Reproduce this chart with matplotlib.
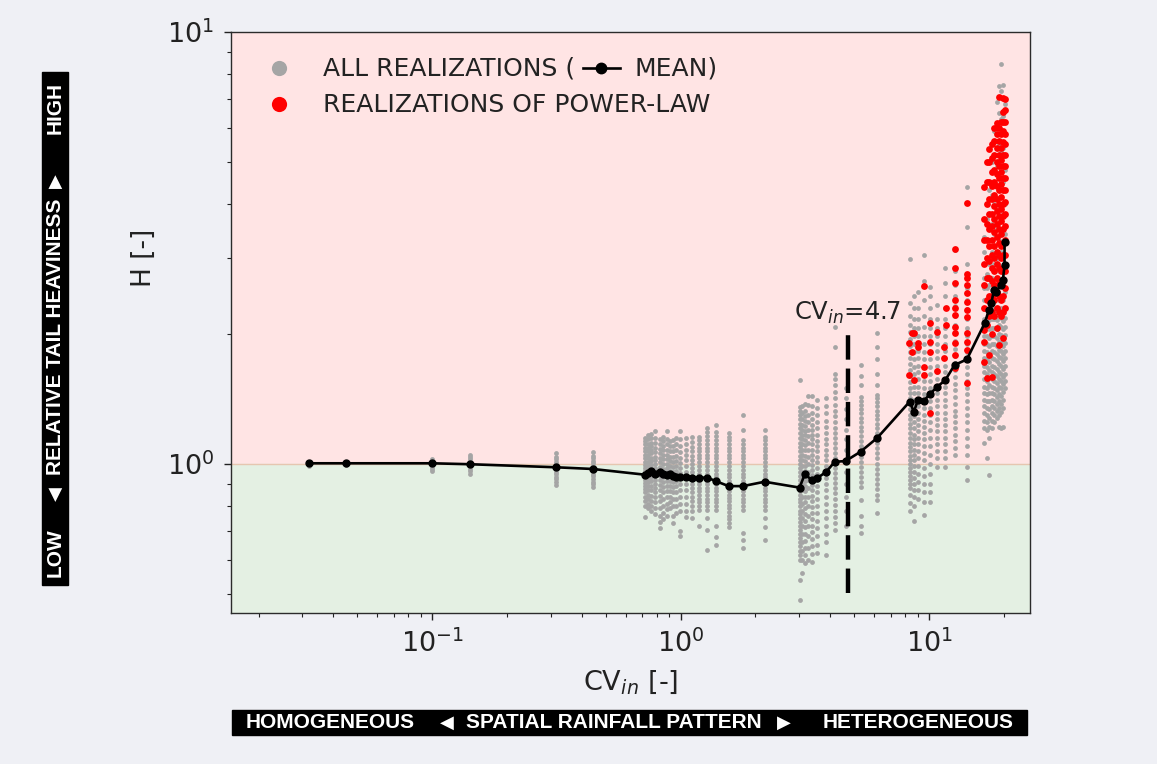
import matplotlib
matplotlib.use("Agg")
import matplotlib.pyplot as plt
from matplotlib.lines import Line2D
from matplotlib.patches import Rectangle
from matplotlib.ticker import NullFormatter

# Ensemble mean of the tail heaviness H for each spatial CV of the rainfall input
mean_cv = [0.032, 0.045, 0.100, 0.142, 0.314, 0.443,
           0.716, 0.740, 0.762, 0.790, 0.823, 0.850, 0.881, 0.905, 0.931, 0.960, 0.991, 1.047,
           1.115, 1.185, 1.280, 1.392, 1.560, 1.781, 2.178,
           3.01, 3.16, 3.38, 3.54, 3.86, 4.17, 4.61, 5.30, 6.19,
           8.35, 8.69, 9.01, 9.53, 10.05, 10.79, 11.62, 12.66, 14.2,
           16.73, 17.41, 17.80, 18.24, 18.64, 19.40, 19.82, 20.13, 20.13]
mean_h = [1.004, 1.004, 1.004, 0.999, 0.983, 0.974,
          0.945, 0.955, 0.962, 0.950, 0.958, 0.950, 0.944, 0.948, 0.938, 0.935, 0.932, 0.935,
          0.930, 0.930, 0.930, 0.912, 0.889, 0.889, 0.910,
          0.882, 0.947, 0.918, 0.927, 0.960, 1.012, 1.016, 1.068, 1.150,
          1.394, 1.321, 1.406, 1.400, 1.450, 1.510, 1.564, 1.695, 1.747,
          2.117, 2.273, 2.354, 2.528, 2.505, 2.596, 2.665, 2.888, 3.270]

# All realizations, one column of H values per CV
gray_cv = [0.032, 0.045, 0.100, 0.142, 0.314, 0.443,
           0.716, 0.740, 0.762, 0.790, 0.823, 0.850, 0.881, 0.905, 0.931, 0.960, 0.991, 1.047,
           1.115, 1.185, 1.280, 1.392, 1.560, 1.781, 2.178,
           3.01, 3.09, 3.16, 3.27, 3.38, 3.54, 3.86, 4.17, 4.61, 5.30, 6.19,
           8.35, 8.69, 9.01, 9.53, 10.05, 10.79, 11.62, 12.66, 14.2,
           16.7, 17.1, 17.5, 17.9, 18.3, 18.7, 19.1, 19.5, 19.9, 20.3]
gray_h = [
    [0.99, 0.995, 1.0, 1.005, 1.01],
    [0.995, 1.0, 1.005],
    [0.965, 0.975, 0.985, 0.995, 1.005, 1.015, 1.025],
    [0.95, 0.962, 0.975, 0.987, 1.0, 1.012, 1.025, 1.037, 1.05],
    [0.895, 0.908, 0.921, 0.934, 0.947, 0.96, 0.973, 0.986, 1.0, 1.013, 1.027, 1.04, 1.06],
    [0.885, 0.898, 0.911, 0.924, 0.937, 0.95, 0.963, 0.976, 0.99, 1.003, 1.017, 1.031, 1.045, 1.066],
    [0.755, 0.80, 0.82, 0.84, 0.86, 0.875, 0.89, 0.905, 0.92, 0.935, 0.95, 0.965, 0.98, 0.995,
     1.01, 1.03, 1.05, 1.07, 1.09, 1.11, 1.13, 1.15],
    [0.79, 0.81, 0.83, 0.85, 0.87, 0.89, 0.91, 0.93, 0.95, 0.97, 0.99, 1.01, 1.03, 1.05, 1.07,
     1.09, 1.11, 1.14, 1.17],
    [0.78, 0.80, 0.82, 0.845, 0.87, 0.89, 0.915, 0.935, 0.955, 0.975, 0.995, 1.015, 1.035, 1.06,
     1.08, 1.10, 1.12, 1.15, 1.175],
    [0.765, 0.79, 0.815, 0.84, 0.86, 0.88, 0.90, 0.92, 0.94, 0.96, 0.98, 1.0, 1.02, 1.04, 1.065,
     1.09, 1.12, 1.15, 1.19],
    [0.71, 0.735, 0.76, 0.79, 0.82, 0.845, 0.87, 0.895, 0.92, 0.94, 0.96, 0.985, 1.01, 1.035,
     1.06, 1.085, 1.11, 1.14],
    [0.745, 0.77, 0.80, 0.83, 0.86, 0.885, 0.91, 0.935, 0.955, 0.975, 1.0, 1.025, 1.05, 1.075,
     1.10, 1.13, 1.155],
    [0.76, 0.785, 0.81, 0.84, 0.865, 0.89, 0.915, 0.94, 0.96, 0.98, 1.0, 1.025, 1.05, 1.08,
     1.11, 1.14, 1.19],
    [0.79, 0.815, 0.84, 0.865, 0.89, 0.915, 0.94, 0.965, 0.99, 1.015, 1.04, 1.07, 1.10, 1.13],
    [0.73, 0.76, 0.80, 0.83, 0.86, 0.885, 0.91, 0.935, 0.96, 0.985, 1.01, 1.04, 1.07, 1.10, 1.135],
    [0.77, 0.80, 0.83, 0.86, 0.89, 0.915, 0.94, 0.965, 0.99, 1.015, 1.045, 1.075, 1.11, 1.15],
    [0.68, 0.70, 0.78, 0.81, 0.84, 0.87, 0.90, 0.93, 0.955, 0.98, 1.005, 1.035, 1.065, 1.10,
     1.14, 1.19],
    [0.755, 0.78, 0.81, 0.84, 0.87, 0.90, 0.93, 0.96, 0.99, 1.02, 1.05, 1.08, 1.11, 1.15],
    [0.75, 0.78, 0.80, 0.82, 0.84, 0.86, 0.88, 0.90, 0.92, 0.94, 0.96, 0.98, 1.0, 1.02, 1.045,
     1.07, 1.095, 1.125, 1.155],
    [0.72, 0.783, 0.80, 0.815, 0.83, 0.85, 0.865, 0.88, 0.90, 0.915, 0.935, 0.95, 0.97, 0.99,
     1.01, 1.03, 1.05, 1.07, 1.09, 1.11, 1.135, 1.155],
    [0.633, 0.704, 0.749, 0.783, 0.80, 0.815, 0.83, 0.85, 0.865, 0.88, 0.90, 0.915, 0.935, 0.95,
     0.97, 0.99, 1.01, 1.03, 1.05, 1.07, 1.09, 1.11, 1.135, 1.16, 1.185, 1.21],
    [0.649, 0.679, 0.72, 0.783, 0.80, 0.815, 0.83, 0.85, 0.865, 0.88, 0.90, 0.915, 0.935, 0.95,
     0.97, 0.99, 1.01, 1.03, 1.05, 1.07, 1.09, 1.11, 1.135, 1.16, 1.185, 1.231],
    [0.716, 0.73, 0.745, 0.76, 0.775, 0.79, 0.805, 0.82, 0.835, 0.85, 0.865, 0.88, 0.90, 0.915,
     0.935, 0.95, 0.97, 0.99, 1.01, 1.03, 1.05, 1.07, 1.09, 1.11, 1.135, 1.155, 1.178],
    [0.638, 0.667, 0.691, 0.783, 0.80, 0.815, 0.83, 0.85, 0.865, 0.88, 0.90, 0.915, 0.935, 0.95,
     0.97, 0.99, 1.01, 1.03, 1.05, 1.07, 1.09, 1.11, 1.137, 1.198, 1.298],
    [0.667, 0.716, 0.749, 0.783, 0.80, 0.815, 0.83, 0.85, 0.865, 0.88, 0.90, 0.915, 0.935, 0.95,
     0.97, 0.99, 1.01, 1.03, 1.05, 1.07, 1.09, 1.11, 1.135, 1.157, 1.198],
    [0.485, 0.54, 0.60, 0.615, 0.63, 0.645, 0.66, 0.675, 0.69, 0.705, 0.72, 0.735, 0.75, 0.765,
     0.78, 0.80, 0.815, 0.83, 0.85, 0.865, 0.88, 0.90, 0.92, 0.94, 0.96, 0.98, 1.0, 1.02, 1.045,
     1.07, 1.095, 1.12, 1.15, 1.18, 1.21, 1.24, 1.27, 1.30, 1.33, 1.357, 1.564],
    [0.56, 0.60, 0.63, 0.66, 0.69, 0.72, 0.75, 0.78, 0.81, 0.84, 0.87, 0.90, 0.93, 0.96, 0.99,
     1.02, 1.05, 1.08, 1.11, 1.14, 1.17, 1.20, 1.23, 1.27, 1.31, 1.36],
    [0.59, 0.615, 0.64, 0.665, 0.69, 0.715, 0.74, 0.765, 0.79, 0.815, 0.84, 0.865, 0.89, 0.915,
     0.94, 0.965, 0.99, 1.015, 1.045, 1.075, 1.105, 1.135, 1.165, 1.195, 1.225, 1.26, 1.295,
     1.33, 1.38],
    [0.60, 0.64, 0.68, 0.72, 0.76, 0.80, 0.84, 0.88, 0.92, 0.96, 1.0, 1.04, 1.08, 1.12, 1.16,
     1.20, 1.25, 1.30, 1.37, 1.44],
    [0.594, 0.62, 0.645, 0.67, 0.695, 0.72, 0.745, 0.77, 0.795, 0.82, 0.845, 0.87, 0.895, 0.92,
     0.945, 0.97, 0.995, 1.02, 1.05, 1.08, 1.11, 1.14, 1.17, 1.20, 1.23, 1.27, 1.31, 1.36, 1.44],
    [0.621, 0.65, 0.68, 0.71, 0.74, 0.77, 0.80, 0.83, 0.86, 0.89, 0.92, 0.95, 0.98, 1.01, 1.04,
     1.07, 1.10, 1.13, 1.17, 1.21, 1.25, 1.30, 1.35, 1.406],
    [0.616, 0.66, 0.69, 0.72, 0.75, 0.78, 0.81, 0.84, 0.87, 0.90, 0.93, 0.96, 0.99, 1.02, 1.05,
     1.08, 1.11, 1.14, 1.18, 1.22, 1.26, 1.31, 1.36, 1.42],
    [0.704, 0.73, 0.755, 0.78, 0.805, 0.83, 0.855, 0.88, 0.905, 0.93, 0.955, 0.98, 1.005, 1.03,
     1.06, 1.09, 1.12, 1.15, 1.18, 1.21, 1.25, 1.29, 1.33, 1.37, 1.42, 1.47, 1.52, 1.57, 1.62,
     1.87, 2.077],
    [0.72, 0.78, 0.84, 0.90, 0.96, 1.02, 1.08, 1.14, 1.20, 1.27, 1.34, 1.42, 1.50],
    [0.691, 0.72, 0.76, 0.825, 0.885, 0.91, 0.935, 0.96, 0.985, 1.01, 1.04, 1.07, 1.10, 1.13,
     1.16, 1.19, 1.22, 1.25, 1.28, 1.31, 1.34, 1.37, 1.40, 1.43, 1.52, 1.60, 1.695],
    [0.769, 0.825, 0.85, 0.875, 0.90, 0.925, 0.95, 0.975, 1.0, 1.03, 1.06, 1.09, 1.12, 1.15,
     1.18, 1.21, 1.24, 1.27, 1.30, 1.33, 1.36, 1.39, 1.42, 1.444, 1.52, 1.62, 1.75, 1.87, 2.006],
    [0.78, 0.811, 0.85, 0.88, 0.90, 0.92, 0.94, 0.96, 0.98, 1.0, 1.02, 1.045, 1.07, 1.095, 1.12,
     1.15, 1.18, 1.21, 1.24, 1.27, 1.30, 1.34, 1.38, 1.42, 1.46, 1.50, 1.55, 1.60, 1.65, 1.70,
     1.76, 1.82, 1.88, 1.95, 2.02, 2.10, 2.20, 2.36, 2.99],
    [0.74, 0.80, 0.84, 0.87, 0.90, 0.93, 0.96, 0.99, 1.02, 1.05, 1.08, 1.11, 1.14, 1.17, 1.21,
     1.25, 1.29, 1.33, 1.37, 1.41, 1.46, 1.51, 1.56, 1.62, 1.68, 1.75, 1.82, 1.90, 1.98, 2.07,
     2.17, 2.30, 2.45],
    [0.83, 0.87, 0.91, 0.95, 0.99, 1.03, 1.07, 1.11, 1.15, 1.19, 1.23, 1.27, 1.31, 1.36, 1.41,
     1.46, 1.51, 1.57, 1.63, 1.69, 1.76, 1.83, 1.90, 1.98, 2.07, 2.17, 2.30, 2.50],
    [0.762, 0.818, 0.86, 0.90, 0.94, 0.98, 1.02, 1.06, 1.10, 1.14, 1.18, 1.22, 1.26, 1.30, 1.35,
     1.40, 1.45, 1.50, 1.56, 1.62, 1.68, 1.75, 1.82, 1.90, 1.98, 2.08, 2.20, 2.40, 2.65, 3.04],
    [0.818, 0.86, 0.90, 0.95, 1.0, 1.05, 1.10, 1.15, 1.20, 1.25, 1.30, 1.35, 1.40, 1.45, 1.50,
     1.56, 1.62, 1.68, 1.75, 1.82, 1.90, 1.98, 2.07, 2.17, 2.30, 2.45, 2.57],
    [0.986, 1.03, 1.07, 1.11, 1.15, 1.19, 1.23, 1.27, 1.31, 1.36, 1.41, 1.46, 1.51, 1.57, 1.63,
     1.69, 1.76, 1.83, 1.90, 1.98, 2.07, 2.17, 2.33],
    [0.986, 1.03, 1.07, 1.11, 1.15, 1.19, 1.23, 1.27, 1.31, 1.36, 1.41, 1.46, 1.51, 1.57, 1.63,
     1.69, 1.76, 1.83, 1.90, 1.98, 2.07, 2.17, 2.30, 2.45, 2.62, 2.84],
    [1.049, 1.09, 1.13, 1.17, 1.21, 1.25, 1.29, 1.33, 1.38, 1.43, 1.48, 1.53, 1.59, 1.65, 1.71,
     1.78, 1.85, 1.93, 2.01, 2.10, 2.20, 2.32, 2.45, 2.60, 2.80, 3.13],
    [0.918, 0.986, 1.05, 1.10, 1.15, 1.20, 1.25, 1.30, 1.35, 1.40, 1.45, 1.50, 1.56, 1.62, 1.68,
     1.75, 1.82, 1.90, 1.98, 2.07, 2.17, 2.28, 2.40, 2.55, 2.70, 2.90, 3.54, 4.38],
    [1.117, 1.21, 1.26, 1.31, 1.36, 1.41, 1.46, 1.51, 1.57, 1.63, 1.69, 1.76, 1.83, 1.90, 1.98,
     2.07, 2.17, 2.28, 2.40, 2.55, 2.70, 2.90, 3.10, 3.35],
    [1.03, 1.20, 1.25, 1.30, 1.35, 1.40, 1.45, 1.50, 1.56, 1.62, 1.68, 1.75, 1.82, 1.90, 1.98,
     2.07, 2.17, 2.28, 2.40, 2.55, 2.75, 3.0, 3.3, 3.7],
    [0.943, 1.15, 1.22, 1.28, 1.34, 1.40, 1.46, 1.52, 1.58, 1.65, 1.72, 1.80, 1.88, 1.96, 2.05,
     2.15, 2.26, 2.40, 2.6, 2.9, 3.3, 3.8, 4.3],
    [1.21, 1.26, 1.31, 1.36, 1.41, 1.46, 1.51, 1.57, 1.63, 1.69, 1.76, 1.83, 1.90, 1.98, 2.07,
     2.17, 2.28, 2.45, 2.7, 3.1, 3.6, 4.2, 5.0],
    [1.25, 1.30, 1.35, 1.40, 1.45, 1.50, 1.56, 1.62, 1.68, 1.75, 1.82, 1.90, 1.98, 2.07, 2.17,
     2.28, 2.5, 2.9, 3.4, 4.0, 4.8, 5.9],
    [1.28, 1.33, 1.38, 1.43, 1.48, 1.54, 1.60, 1.66, 1.73, 1.80, 1.88, 1.96, 2.05, 2.15, 2.26,
     2.6, 3.0, 3.5, 4.1, 4.9, 6.0, 6.9],
    [1.22, 1.30, 1.35, 1.40, 1.45, 1.51, 1.57, 1.63, 1.70, 1.77, 1.84, 1.92, 2.0, 2.1, 2.2, 2.4,
     2.8, 3.3, 3.9, 4.6, 5.5, 6.5, 7.5],
    [1.21, 1.32, 1.38, 1.44, 1.50, 1.56, 1.62, 1.69, 1.76, 1.83, 1.91, 1.99, 2.08, 2.18, 2.3,
     2.6, 3.1, 3.7, 4.4, 5.3, 6.3, 7.3, 8.45],
    [1.22, 1.35, 1.41, 1.47, 1.53, 1.59, 1.66, 1.73, 1.80, 1.88, 1.96, 2.05, 2.14, 2.25, 2.4,
     2.7, 3.2, 3.8, 4.5, 5.4, 6.4, 7.53],
    [1.5, 1.56, 1.62, 1.69, 1.76, 1.83, 1.91, 1.99, 2.08, 2.18, 2.3, 2.5, 2.9, 3.4, 4.0, 4.8,
     5.8, 6.8],
]

# Realizations whose runoff tail follows a power law
red_cv = [8.3, 8.5, 8.7, 9.0, 9.5, 10.05, 10.8, 11.5, 11.7, 12.66, 14.2,
          16.7, 17.1, 17.5, 17.9, 18.3, 18.7, 19.1, 19.5, 19.9, 20.3]
red_h = [
    [1.607, 1.91],
    [2.006, 1.82],
    [2.013, 1.564],
    [1.91, 1.868],
    [1.68, 1.607, 2.58],
    [2.117, 1.919, 1.82, 1.31],
    [2.025, 1.64],
    [1.868, 1.757],
    [2.30, 2.10],
    [3.15, 2.84, 2.62, 2.397, 2.295, 2.213, 2.077, 2.006, 1.91, 1.787, 1.666],
    [4.02, 2.76, 2.69, 2.596, 2.483, 2.375, 2.273, 2.193, 2.006, 1.919, 1.835, 1.537],
    [1.92, 2.04, 1.725, 2.3, 2.6, 2.9, 3.3, 3.7, 4.38],
    [1.58, 2.1, 2.4, 2.7, 3.0, 3.3, 3.6, 4.0, 4.5, 5.0],
    [1.787, 2.2, 2.45, 2.7, 2.95, 3.2, 3.5, 3.8, 4.1, 4.5, 5.0, 5.37],
    [1.59, 2.0, 2.25, 2.45, 2.65, 2.85, 3.05, 3.3, 3.55, 3.8, 4.1, 4.4, 4.75, 5.1, 5.5],
    [2.2, 2.4, 2.6, 2.8, 3.0, 3.2, 3.45, 3.7, 3.95, 4.2, 4.5, 4.8, 5.2, 5.6, 6.0],
    [2.06, 2.3, 2.5, 2.7, 2.9, 3.1, 3.35, 3.6, 3.85, 4.1, 4.4, 4.7, 5.0, 5.4, 5.8, 6.16],
    [1.886, 2.25, 2.45, 2.65, 2.85, 3.05, 3.25, 3.5, 3.75, 4.0, 4.3, 4.6, 4.9, 5.2, 5.6, 6.0, 7.08],
    [2.2, 2.4, 2.6, 2.8, 3.0, 3.2, 3.4, 3.65, 3.9, 4.15, 4.45, 4.75, 5.05, 5.4, 5.8, 6.2],
    [1.953, 2.25, 2.45, 2.65, 2.85, 3.05, 3.25, 3.5, 3.75, 4.0, 4.3, 4.6, 4.9, 5.2, 5.55, 5.9,
     6.2, 6.54, 7.02],
    [2.3, 2.55, 2.8, 3.05, 3.3, 3.55, 3.8, 4.05, 4.3, 4.6, 4.9, 5.2, 5.5, 5.8, 6.2, 6.6, 7.0],
]

# Threshold CV and the H span of its marker line
cv_threshold = 4.7
threshold_h = [0.503, 2.0]

BG = '#eff0f5'
TEXT_C = '#222222'

fig = plt.figure(figsize=(11.57, 7.64), dpi=100, facecolor=BG)
ax = fig.add_axes([0.1997, 0.1976, 0.6906, 0.7605])
ax.set_xscale('log')
ax.set_yscale('log')
ax.set_xlim(0.0155, 25.5)
ax.set_ylim(0.452, 10)

# Shaded regimes: heavier (H > 1) and lighter (H < 1) tails
ax.axhspan(1, 10, color='#ffe4e4', zorder=0)
ax.axhspan(0.452, 1, color='#e4f0e3', zorder=0)
ax.axhline(1, color='#e6c6b0', lw=1.0, zorder=0.5)

gx = [cv for cv, hs in zip(gray_cv, gray_h) for _ in hs]
gy = [h for hs in gray_h for h in hs]
ax.scatter(gx, gy, s=12, color='#a5a5a5', linewidths=0, zorder=2)

rx = [cv for cv, hs in zip(red_cv, red_h) for _ in hs]
ry = [h for hs in red_h for h in hs]
ax.scatter(rx, ry, s=24, color='#ff0000', linewidths=0, zorder=3)

ax.plot(mean_cv, mean_h, color='black', lw=1.9, marker='o', markersize=5, zorder=4)

ax.plot([cv_threshold, cv_threshold], threshold_h, color='black', lw=3.2,
        dashes=(5.5, 2.0), zorder=5)
ax.text(cv_threshold, 2.09, f'CV$_{{in}}$={cv_threshold}', ha='center', va='bottom',
        fontsize=17.5, color=TEXT_C, zorder=6)

# Axes styling
for sp in ax.spines.values():
    sp.set_color('#2b2b2b')
    sp.set_linewidth(1.0)
ax.tick_params(which='major', direction='out', length=5, width=1.0, pad=7,
               labelsize=19.5, colors=TEXT_C)
ax.tick_params(which='minor', direction='out', length=3, width=0.8, colors=TEXT_C)
ax.xaxis.set_minor_formatter(NullFormatter())
ax.yaxis.set_minor_formatter(NullFormatter())
ax.set_xlabel('CV$_{in}$ [-]', fontsize=19.5, labelpad=7, color=TEXT_C)
ax.set_ylabel('H [-]', fontsize=19, color=TEXT_C)
ax.yaxis.set_label_coords(-0.093, 0.611)

# Legend drawn by hand so the mean symbol can sit inside the first label
LEG_FS = 18
lx, mx = 0.115, 0.060
ly1, ly2 = 0.926, 0.8623      # text baselines
my1, my2 = 0.9386, 0.876      # marker centres
ax.scatter([mx], [my1], s=120, color='#a5a5a5', linewidths=0,
           transform=ax.transAxes, zorder=7, clip_on=False)
ax.scatter([mx], [my2], s=120, color='#ff0000', linewidths=0,
           transform=ax.transAxes, zorder=7, clip_on=False)
t1 = ax.text(lx, ly1, 'ALL REALIZATIONS (', transform=ax.transAxes, va='baseline',
             fontsize=LEG_FS, color=TEXT_C, zorder=7)
ax.text(lx, ly2, 'REALIZATIONS OF POWER-LAW', transform=ax.transAxes, va='baseline',
        fontsize=LEG_FS, color=TEXT_C, zorder=7)
fig.canvas.draw()
renderer = fig.canvas.get_renderer()
bb = t1.get_window_extent(renderer).transformed(ax.transAxes.inverted())
sx0 = bb.x1 + 0.010
sx1 = sx0 + 0.046
ax.add_line(Line2D([sx0, (sx0 + sx1) / 2, sx1], [my1, my1, my1], transform=ax.transAxes,
                   color='black', lw=1.9, marker='o', markersize=7.5, markevery=[1],
                   zorder=7))
ax.text(sx1 + 0.018, ly1, 'MEAN)', transform=ax.transAxes, va='baseline',
        fontsize=LEG_FS, color=TEXT_C, zorder=7)

# Annotation bars with white bold captions
BAR_FONT = ['Liberation Sans', 'DejaVu Sans']
BAR_FS = 15
W, H = 1157.0, 764.0


def fx(px):
    return px / W


def fy(py):
    return 1 - py / H


fig.patches.append(Rectangle((fx(232), fy(735)), fx(1027) - fx(232), fy(710) - fy(735),
                             transform=fig.transFigure, color='black', zorder=1))
fig.patches.append(Rectangle((fx(42), fy(585)), fx(68) - fx(42), fy(72) - fy(585),
                             transform=fig.transFigure, color='black', zorder=1))

bar_kw = dict(color='white', fontweight='bold', family=BAR_FONT, fontsize=BAR_FS,
              ha='center', va='center')
tri_kw = dict(color='white', family=['DejaVu Sans'], fontsize=13, ha='center', va='center')

fig.text(fx(330), fy(722.5), 'HOMOGENEOUS', **bar_kw)
fig.text(fx(614), fy(722.5), 'SPATIAL RAINFALL PATTERN', **bar_kw)
fig.text(fx(918), fy(722.5), 'HETEROGENEOUS', **bar_kw)
fig.text(fx(447), fy(722.5), '\u25c0', **tri_kw)
fig.text(fx(784), fy(722.5), '\u25b6', **tri_kw)

fig.text(fx(55.5), fy(553), 'LOW', rotation=90, **bar_kw)
fig.text(fx(55.5), fy(337), 'RELATIVE TAIL HEAVINESS', rotation=90, **bar_kw)
fig.text(fx(55.5), fy(108), 'HIGH', rotation=90, **bar_kw)
fig.text(fx(55.5), fy(494), '\u25c0', rotation=90, **tri_kw)
fig.text(fx(55.5), fy(181), '\u25b6', rotation=90, **tri_kw)

fig.savefig('out.png', dpi=100, facecolor=BG)
